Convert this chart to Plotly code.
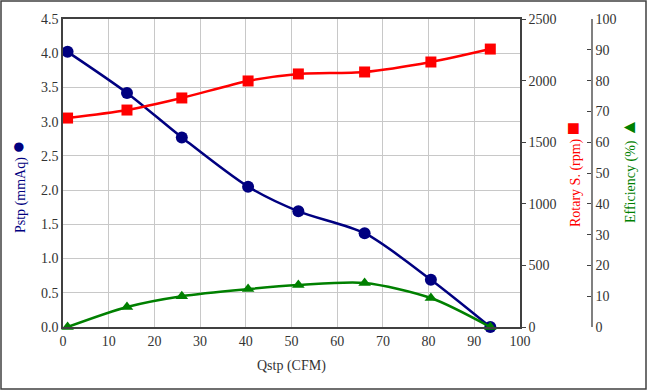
import plotly.graph_objects as go

# Data
qstp = [1, 14, 26, 40.5, 51.5, 66, 80.5, 93.5]
pstp = [4.02, 3.42, 2.77, 2.05, 1.69, 1.37, 0.69, 0.0]
rpm = [1696, 1761, 1859, 1997, 2054, 2070, 2151, 2256]
eff = [0.0, 6.5, 10.0, 12.3, 13.6, 14.3, 9.4, 0.0]

x_ticks = list(range(0, 101, 10))
FONT = "Liberation Serif"
FS = 14
NAVY, RED, GREEN = "#000080", "#ff0000", "#008000"
W, H = 647, 390
ML, MR, MT, MB = 10, 10, 19, 63
PW, PH = W - ML - MR, H - MT - MB

def px_x(p):
    return (p - ML) / PW

def px_y(p):
    return (H - MB - p) / PH

fig = go.Figure()
fig.add_trace(go.Scatter(x=qstp, y=pstp, mode="lines+markers", yaxis="y",
                         line=dict(color=NAVY, width=2.5, shape="spline", smoothing=0.8),
                         marker=dict(symbol="circle", size=12, color=NAVY), showlegend=False,
                         cliponaxis=False))
fig.add_trace(go.Scatter(x=qstp, y=rpm, mode="lines+markers", yaxis="y2",
                         line=dict(color=RED, width=2.5, shape="spline", smoothing=0.8),
                         marker=dict(symbol="square", size=11, color=RED), showlegend=False,
                         cliponaxis=False))
fig.add_trace(go.Scatter(x=qstp, y=eff, mode="lines+markers", yaxis="y3",
                         line=dict(color=GREEN, width=2.5, shape="spline", smoothing=0.8),
                         marker=dict(symbol="triangle-up", size=11, color=GREEN), showlegend=False,
                         cliponaxis=False))

x0, x1 = px_x(63), px_x(520)
axis_font = dict(family=FONT, size=FS, color="#333333")
fig.update_layout(
    width=W, height=H,
    margin=dict(l=ML, r=MR, t=MT, b=MB, autoexpand=False),
    paper_bgcolor="white", plot_bgcolor="white",
    font=dict(family=FONT, size=FS, color="#333333"),
    xaxis=dict(domain=[x0, x1], range=[0, 100], tickvals=x_ticks, showgrid=True,
               gridcolor="#c8c8c8", gridwidth=1, zeroline=False, showline=True,
               linecolor="#404040", linewidth=1.5, mirror=True, ticks="",
               tickfont=axis_font, automargin=False),
    yaxis=dict(range=[0, 4.5], dtick=0.5, tickformat=".1f", showgrid=True,
               gridcolor="#c8c8c8", gridwidth=1, zeroline=False, showline=True,
               linecolor="#404040", linewidth=1.5, ticks="", tickfont=axis_font,
               automargin=False),
    yaxis2=dict(range=[0, 2500], dtick=500, overlaying="y", side="right", anchor="x",
                showgrid=False, zeroline=False, showline=True, linecolor="#404040",
                linewidth=1.5, ticks="outside", ticklen=4, tickcolor="#404040",
                tickfont=axis_font, automargin=False),
    yaxis3=dict(range=[0, 100], dtick=10, overlaying="y", side="right", anchor="free",
                position=px_x(592), showgrid=False, zeroline=False, showline=True,
                linecolor="#808080", linewidth=1.5, ticks="inside", ticklen=4,
                tickcolor="#404040", tickfont=axis_font, automargin=False),
)

annos = [
    dict(x=px_x(17), y=px_y(187), text="Pstp (mmAq) <span style='font-size:22px'>●</span>",
         textangle=-90, font=dict(family=FONT, size=FS, color=NAVY)),
    dict(x=px_x(572), y=px_y(175), text="Rotary S. (rpm) <span style='font-size:22px'>■</span>",
         textangle=-90, font=dict(family=FONT, size=FS, color=RED)),
    dict(x=px_x(628), y=px_y(171), text="Efficiency (%) <span style='font-size:19px'>▲</span>",
         textangle=-90, font=dict(family=FONT, size=FS, color=GREEN)),
    dict(x=px_x(291), y=px_y(366), text="Qstp (CFM)",
         font=dict(family=FONT, size=FS, color="#333333")),
]
for a in annos:
    fig.add_annotation(xref="paper", yref="paper", showarrow=False, xanchor="center",
                       yanchor="middle", **a)

fig.add_shape(type="rect", xref="paper", yref="paper",
              x0=px_x(1), x1=px_x(646), y0=px_y(389), y1=px_y(1),
              line=dict(color="#404040", width=1.5), layer="below")

fig.write_html("out.html", config={"displayModeBar": False},
               post_script="document.body.style.margin='0';")
